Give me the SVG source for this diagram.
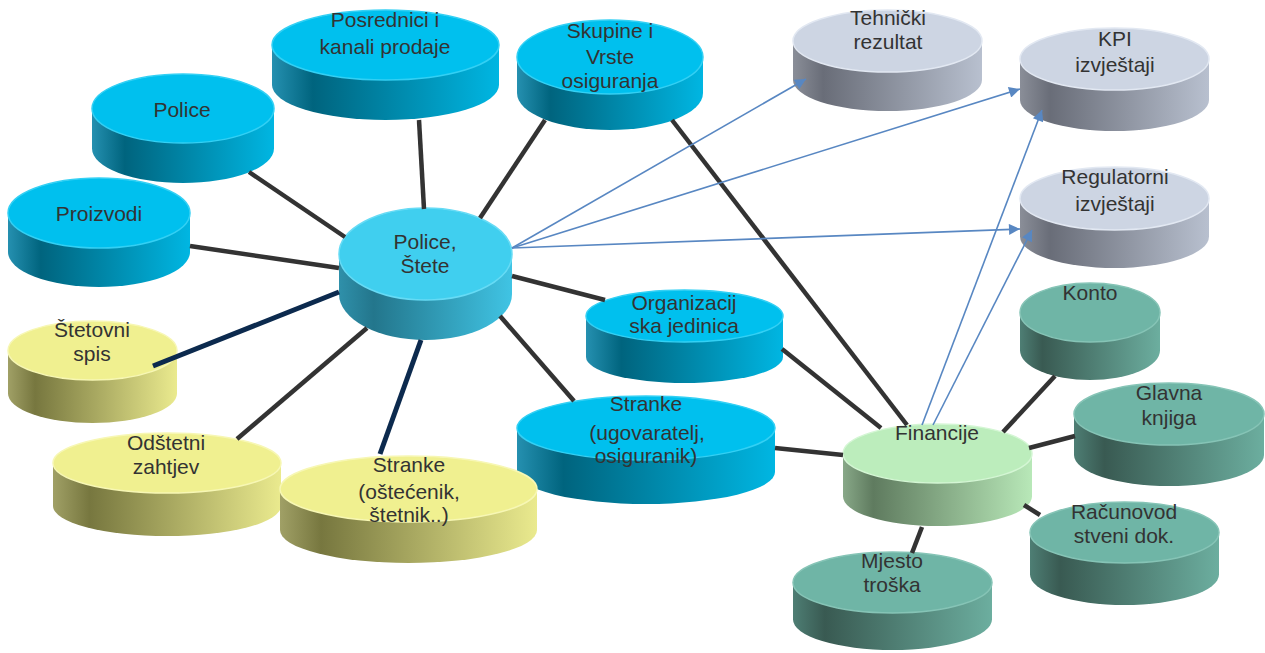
<svg xmlns="http://www.w3.org/2000/svg" width="1265" height="653" viewBox="0 0 1265 653">
<defs>
<style>
.t{font-family:"Liberation Sans",Arial,sans-serif;font-size:21px;fill:#333333;text-anchor:middle}
.c{stroke:#333333;stroke-width:4.5;fill:none}
.n{stroke:#0c2a4e;stroke-width:5;fill:none}
.a{stroke:#5887c2;stroke-width:1.6;fill:none;marker-end:url(#ah)}
.cyT{fill:#00c0ee;stroke:#33d0f4;stroke-width:1.5}
.cyS{fill:url(#gCy)}
.ceT{fill:#40cfef;stroke:#66dbf5;stroke-width:1.5}
.ceS{fill:url(#gCe)}
.grT{fill:#cdd5e3;stroke:#e2e8f2;stroke-width:1.5}
.grS{fill:url(#gGr)}
.yeT{fill:#f0f090;stroke:#f7f7b4;stroke-width:1.5}
.yeS{fill:url(#gYe)}
.teT{fill:#6fb5a6;stroke:#86c4b6;stroke-width:1.5}
.teS{fill:url(#gTe)}
.lgT{fill:#bcedbc;stroke:#d4f6d4;stroke-width:1.5}
.lgS{fill:url(#gLg)}
</style>
<linearGradient id="gCy" x1="0" y1="0" x2="1" y2="0"><stop offset="0" stop-color="#2590b0"/><stop offset="0.18" stop-color="#00647e"/><stop offset="1" stop-color="#00b6e2"/></linearGradient>
<linearGradient id="gCe" x1="0" y1="0" x2="1" y2="0"><stop offset="0" stop-color="#2f90aa"/><stop offset="0.2" stop-color="#23768c"/><stop offset="1" stop-color="#40c4e4"/></linearGradient>
<linearGradient id="gGr" x1="0" y1="0" x2="1" y2="0"><stop offset="0" stop-color="#8a8e98"/><stop offset="0.16" stop-color="#696d78"/><stop offset="1" stop-color="#b8c0cf"/></linearGradient>
<linearGradient id="gYe" x1="0" y1="0" x2="1" y2="0"><stop offset="0" stop-color="#a0a066"/><stop offset="0.16" stop-color="#77773f"/><stop offset="1" stop-color="#eaea8e"/></linearGradient>
<linearGradient id="gTe" x1="0" y1="0" x2="1" y2="0"><stop offset="0" stop-color="#4e7e74"/><stop offset="0.16" stop-color="#395a52"/><stop offset="1" stop-color="#6cae9f"/></linearGradient>
<linearGradient id="gLg" x1="0" y1="0" x2="1" y2="0"><stop offset="0" stop-color="#88a888"/><stop offset="0.16" stop-color="#5f7b5f"/><stop offset="1" stop-color="#b8e8b8"/></linearGradient>
<marker id="ah" viewBox="0 0 10 10" refX="10" refY="5" markerWidth="15" markerHeight="11" markerUnits="userSpaceOnUse" orient="auto"><path d="M0,0 L10,5 L0,10 z" fill="#5887c2"/></marker>
</defs>
<rect width="1265" height="653" fill="#ffffff"/>
<g id="nodes">
<g id="police"><path class="cyS" d="M92,108.5 V148.5 A91,34.5 0 0 0 274,148.5 V108.5 Z"/><ellipse class="cyT" cx="183" cy="108.5" rx="91" ry="34.5"/><text class="t" x="182" y="117">Police</text></g>
<g id="proizvodi"><path class="cyS" d="M8,213 V252 A91,35 0 0 0 190,252 V213 Z"/><ellipse class="cyT" cx="99" cy="213" rx="91" ry="35"/><text class="t" x="99" y="221">Proizvodi</text></g>
<g id="posrednici"><path class="cyS" d="M272,45 V85 A113.5,35 0 0 0 499,85 V45 Z"/><ellipse class="cyT" cx="385.5" cy="45" rx="113.5" ry="35"/><text class="t" x="385" y="27">Posrednici i</text><text class="t" x="385" y="54">kanali prodaje</text></g>
<g id="skupine"><path class="cyS" d="M517,57 V93 A93,37 0 0 0 703,93 V57 Z"/><ellipse class="cyT" cx="610" cy="57" rx="93" ry="37"/><text class="t" x="610" y="38">Skupine i</text><text class="t" x="610" y="64">Vrste</text><text class="t" x="610" y="88">osiguranja</text></g>
<g id="tehnicki"><path class="grS" d="M793,41 V80 A94.5,31 0 0 0 982,80 V41 Z"/><ellipse class="grT" cx="887.5" cy="41" rx="94.5" ry="31"/><text class="t" x="888" y="25">Tehnički</text><text class="t" x="888" y="49">rezultat</text></g>
<g id="kpi"><path class="grS" d="M1020,59 V100 A94.5,31 0 0 0 1209,100 V59 Z"/><ellipse class="grT" cx="1114.5" cy="59" rx="94.5" ry="31"/><text class="t" x="1115" y="46">KPI</text><text class="t" x="1115" y="72">izvještaji</text></g>
<g id="regulatorni"><path class="grS" d="M1020,198.5 V236.5 A94.5,31.5 0 0 0 1209,236.5 V198.5 Z"/><ellipse class="grT" cx="1114.5" cy="198.5" rx="94.5" ry="31.5"/><text class="t" x="1115" y="184">Regulatorni</text><text class="t" x="1115" y="211">izvještaji</text></g>
<g id="police-stete"><path class="ceS" d="M339,254 V294 A86.5,46 0 0 0 512,294 V254 Z"/><ellipse class="ceT" cx="425.5" cy="254" rx="86.5" ry="46"/><text class="t" x="425" y="249">Police,</text><text class="t" x="425" y="273">Štete</text></g>
<g id="organizacijska"><path class="cyS" d="M586,316 V357 A98.5,26 0 0 0 783,357 V316 Z"/><ellipse class="cyT" cx="684.5" cy="316" rx="98.5" ry="26"/><text class="t" x="684" y="310">Organizacij</text><text class="t" x="684" y="333">ska jedinica</text></g>
<g id="stranke-ugovaratelj"><path class="cyS" d="M517,428 V472 A129,32 0 0 0 775,472 V428 Z"/><ellipse class="cyT" cx="646" cy="428" rx="129" ry="32"/><text class="t" x="646" y="411">Stranke</text><text class="t" x="647" y="440">(ugovaratelj,</text><text class="t" x="646" y="463">osiguranik)</text></g>
<g id="stetovni-spis"><path class="yeS" d="M8,350.5 V393.5 A84.5,29.5 0 0 0 177,393.5 V350.5 Z"/><ellipse class="yeT" cx="92.5" cy="350.5" rx="84.5" ry="29.5"/><text class="t" x="92" y="337">Štetovni</text><text class="t" x="92" y="361">spis</text></g>
<g id="odstetni-zahtjev"><path class="yeS" d="M53,463 V506 A114,30 0 0 0 281,506 V463 Z"/><ellipse class="yeT" cx="167" cy="463" rx="114" ry="30"/><text class="t" x="166" y="450">Odštetni</text><text class="t" x="166" y="474">zahtjev</text></g>
<g id="stranke-ostecenik"><path class="yeS" d="M280,489 V530 A128.5,33 0 0 0 537,530 V489 Z"/><ellipse class="yeT" cx="408.5" cy="489" rx="128.5" ry="33"/><text class="t" x="409" y="472">Stranke</text><text class="t" x="409" y="499">(oštećenik,</text><text class="t" x="409" y="522">štetnik..)</text></g>
<g id="konto"><path class="teS" d="M1020,312.5 V350.5 A70,29.5 0 0 0 1160,350.5 V312.5 Z"/><ellipse class="teT" cx="1090" cy="312.5" rx="70" ry="29.5"/><text class="t" x="1090" y="300">Konto</text></g>
<g id="glavna-knjiga"><path class="teS" d="M1074,414 V455 A95,31 0 0 0 1264,455 V414 Z"/><ellipse class="teT" cx="1169" cy="414" rx="95" ry="31"/><text class="t" x="1169" y="400">Glavna</text><text class="t" x="1169" y="425">knjiga</text></g>
<g id="racunovodstveni"><path class="teS" d="M1030,532.5 V574.5 A94.5,30.5 0 0 0 1219,574.5 V532.5 Z"/><ellipse class="teT" cx="1124.5" cy="532.5" rx="94.5" ry="30.5"/><text class="t" x="1124" y="519">Računovod</text><text class="t" x="1124" y="543">stveni dok.</text></g>
<g id="mjesto-troska"><path class="teS" d="M793,582.5 V619.5 A99.5,30.5 0 0 0 992,619.5 V582.5 Z"/><ellipse class="teT" cx="892.5" cy="582.5" rx="99.5" ry="30.5"/><text class="t" x="892" y="568">Mjesto</text><text class="t" x="892" y="592">troška</text></g>
<g id="financije"><path class="lgS" d="M843,453.5 V496.5 A94.5,29.5 0 0 0 1032,496.5 V453.5 Z"/><ellipse class="lgT" cx="937.5" cy="453.5" rx="94.5" ry="29.5"/><text class="t" x="937" y="440">Financije</text></g>
</g>
<g id="connectors">
<line class="c" x1="249" y1="172" x2="345" y2="237"/>
<line class="c" x1="190" y1="246" x2="339" y2="268"/>
<line class="c" x1="419" y1="120" x2="424" y2="209"/>
<line class="c" x1="545" y1="120" x2="480" y2="218"/>
<line class="c" x1="672" y1="120" x2="907" y2="425"/>
<line class="c" x1="512" y1="276" x2="605" y2="300"/>
<line class="c" x1="500" y1="316" x2="574" y2="401"/>
<line class="c" x1="782" y1="349" x2="881" y2="428"/>
<line class="c" x1="775" y1="448" x2="843" y2="455"/>
<line class="c" x1="367" y1="328" x2="237" y2="439"/>
<line class="n" x1="339" y1="292" x2="153" y2="366"/>
<line class="n" x1="421" y1="340" x2="380" y2="454"/>
<line class="c" x1="1003" y1="432" x2="1055" y2="376"/>
<line class="c" x1="1029" y1="448" x2="1075" y2="436"/>
<line class="c" x1="1024" y1="505" x2="1040" y2="515"/>
<line class="c" x1="922" y1="527" x2="912" y2="553"/>
<line class="a" x1="512" y1="248" x2="806" y2="79"/>
<line class="a" x1="512" y1="248" x2="1020" y2="89"/>
<line class="a" x1="512" y1="248" x2="1020" y2="229"/>
<line class="a" x1="922" y1="425" x2="1042" y2="110"/>
<line class="a" x1="933" y1="425" x2="1032" y2="230"/>
</g>
</svg>
